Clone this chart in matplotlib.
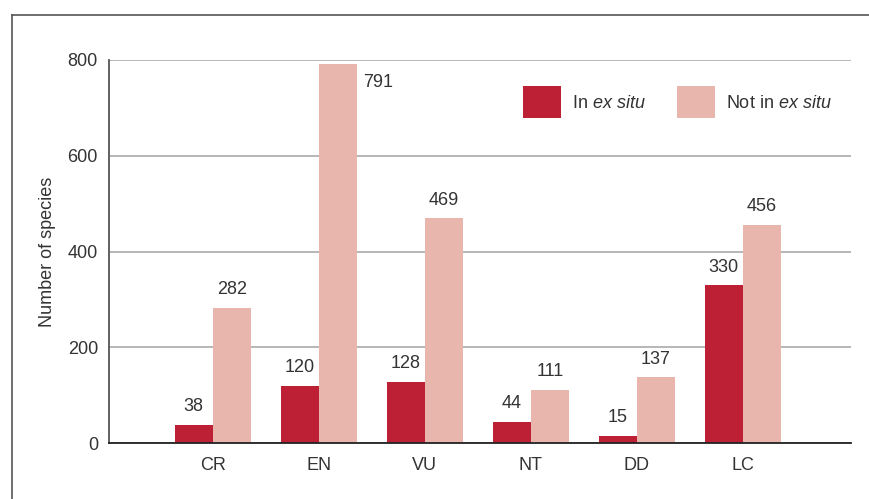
import matplotlib
matplotlib.use("Agg")
import matplotlib.pyplot as plt
from matplotlib.lines import Line2D
import numpy as np

categories = ["CR", "EN", "VU", "NT", "DD", "LC"]
in_ex_situ = [38, 120, 128, 44, 15, 330]
not_in_ex_situ = [282, 791, 469, 111, 137, 456]
y_ticks = [0, 200, 400, 600, 800]

dark = "#BD1F34"
light = "#E8B6AC"
txt = "#333333"

plt.rcParams["font.family"] = ["Liberation Sans", "DejaVu Sans"]
plt.rcParams["mathtext.fontset"] = "custom"
plt.rcParams["mathtext.it"] = "Liberation Sans:italic"
plt.rcParams["mathtext.rm"] = "Liberation Sans"

W, H = 869, 499
fig = plt.figure(figsize=(W / 100, H / 100), dpi=100)
ax = fig.add_axes([109 / W, 1 - 443 / H, (851 - 109) / W, (443 - 60) / H])

x = np.arange(len(categories))
w = 0.36
b1 = ax.bar(x - w / 2, in_ex_situ, w, color=dark, label="In $\\it{ex\\ situ}$", zorder=3)
b2 = ax.bar(x + w / 2, not_in_ex_situ, w, color=light, label="Not in $\\it{ex\\ situ}$", zorder=3)

ax.set_xlim(-0.98, 6.02)
ax.set_ylim(0, 800)
ax.set_yticks(y_ticks)
ax.set_xticks(x)
ax.set_xticklabels(categories)
ax.tick_params(axis="both", length=0, labelsize=13, colors=txt)
ax.tick_params(axis="y", pad=8)
ax.tick_params(axis="x", pad=10)
ax.grid(axis="y", color="#aaaaaa", lw=1.2, zorder=0)
for s in ["top", "right"]:
    ax.spines[s].set_visible(False)
ax.spines["left"].set_color("#555555")
ax.spines["left"].set_linewidth(1.3)
ax.spines["bottom"].set_color("#222222")
ax.spines["bottom"].set_linewidth(1.3)
ax.spines["bottom"].set_zorder(4)

ax.set_ylabel("Number of species", fontsize=13, color=txt, labelpad=8)

ymax = ax.get_ylim()[1]
for rect, v in zip(b1, in_ex_situ):
    ax.annotate(str(v), (rect.get_x() + rect.get_width() / 2, v), xytext=(0, 18),
                textcoords="offset pixels", ha="center", va="center", fontsize=13, color=txt)
for rect, v in zip(b2, not_in_ex_situ):
    if v > 0.9 * ymax:
        ax.annotate(str(v), (rect.get_x() + rect.get_width(), v), xytext=(6, -18),
                    textcoords="offset pixels", ha="left", va="center", fontsize=13, color=txt)
    else:
        ax.annotate(str(v), (rect.get_x() + rect.get_width() / 2, v), xytext=(0, 18),
                    textcoords="offset pixels", ha="center", va="center", fontsize=13, color=txt)

leg = ax.legend(loc="center left", bbox_to_anchor=((523 - 109) / (851 - 109) - 0.01, (443 - 102) / (443 - 60)),
                ncol=2, frameon=False, fontsize=13, handlelength=2.1, handleheight=2.35,
                handletextpad=0.6, columnspacing=1.75, borderaxespad=0)
for t in leg.get_texts():
    t.set_color(txt)

# frame around figure (left and top)
fx = 12 / W
fy = 1 - 15 / H
fig.add_artist(Line2D([fx, fx], [0, fy], transform=fig.transFigure, color="#555555", lw=1.2))
fig.add_artist(Line2D([fx, 1], [fy, fy], transform=fig.transFigure, color="#555555", lw=1.2))

fig.savefig("out.png", dpi=100)
